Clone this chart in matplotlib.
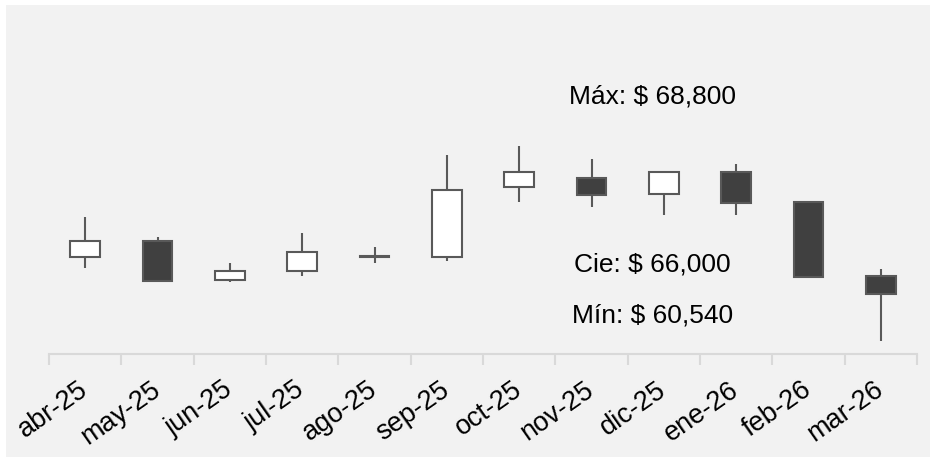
import matplotlib.pyplot as plt
from matplotlib.patches import Rectangle

# Datos (precio mensual)
meses = ["abr-25", "may-25", "jun-25", "jul-25", "ago-25", "sep-25",
         "oct-25", "nov-25", "dic-25", "ene-26", "feb-26", "mar-26"]
apertura = [70200, 72100, 67550, 68600, 70250, 70200, 78350, 79330, 77480, 80100, 76550, 68060]
maximo = [74800, 72500, 69530, 73000, 71400, 82000, 83050, 81600, 80060, 81020, 76550, 68800]
minimo = [69000, 67500, 67370, 68000, 69550, 69800, 76550, 76050, 75050, 75050, 67950, 60540]
cierre = [72100, 67500, 68570, 70800, 70350, 77950, 80100, 77400, 80060, 76470, 67950, 66000]

plt.rcParams['font.family'] = ['Liberation Sans', 'DejaVu Sans']

fig = plt.figure(figsize=(9.3, 4.57), dpi=100, facecolor='white')
fig.patches.append(Rectangle((6 / 930, 0), 1, 452 / 457, transform=fig.transFigure,
                             facecolor='#f2f2f2', edgecolor='none', zorder=-10))
ax = fig.add_axes([49 / 930, 103 / 457, 868 / 930, 334 / 457])
ax.set_facecolor('none')

x = list(range(len(meses)))
borde = '#595959'
for i in x:
    o, h, l, c = apertura[i], maximo[i], minimo[i], cierre[i]
    ax.vlines(i, l, h, color=borde, linewidth=1.5, zorder=2)
    relleno = 'white' if c >= o else '#404040'
    ax.bar(i, abs(c - o), bottom=min(o, c), width=0.41, color=relleno,
           edgecolor=borde, linewidth=1.5, zorder=3)

ax.set_xlim(-0.5, len(meses) - 0.5)
ax.set_ylim(59000, 97650)

for s in ['top', 'right', 'left']:
    ax.spines[s].set_visible(False)
ax.spines['bottom'].set_color('#d9d9d9')
ax.spines['bottom'].set_linewidth(1.5)
ax.set_yticks([])

ax.set_xticks(x)
ax.set_xticklabels(meses, rotation=35, ha='right', va='center',
                   rotation_mode='anchor', fontsize=19.5)
ax.tick_params(axis='x', which='major', length=0, pad=24)
ax.set_xticks([i - 0.5 for i in range(len(meses) + 1)], minor=True)
ax.tick_params(axis='x', which='minor', length=8, width=1.5, color='#d9d9d9')

ax.text(7.84, 0.772, "Máx: $ 68,800", transform=ax.get_xaxis_transform(),
        ha='center', va='center', fontsize=19)
ax.text(7.84, 0.269, "Cie: $ 66,000", transform=ax.get_xaxis_transform(),
        ha='center', va='center', fontsize=19)
ax.text(7.84, 0.114, "Mín: $ 60,540", transform=ax.get_xaxis_transform(),
        ha='center', va='center', fontsize=19)

fig.savefig("out.png", dpi=100, facecolor=fig.get_facecolor())
